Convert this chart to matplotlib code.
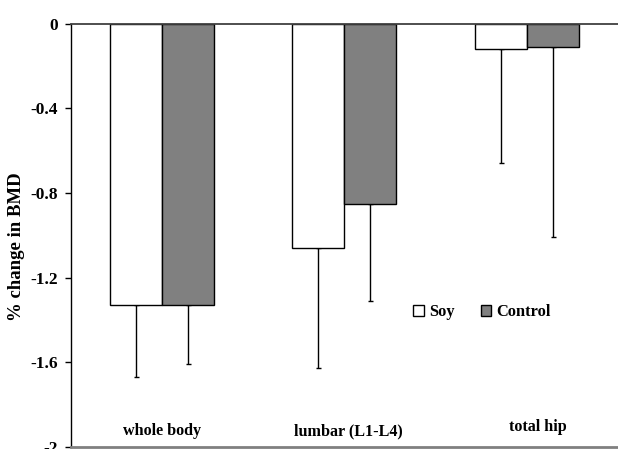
import matplotlib
matplotlib.use("Agg")
import matplotlib.pyplot as plt
from matplotlib.patches import Patch
import numpy as np

# values (% change in BMD)
sites = ["whole body", "lumbar (L1-L4)", "total hip"]
soy_mean = [-1.33, -1.06, -0.12]
soy_err = [0.34, 0.57, 0.54]
control_mean = [-1.33, -0.85, -0.11]
control_err = [0.28, 0.46, 0.90]
yticks = [0, -0.4, -0.8, -1.2, -1.6, -2]
ytick_labels = ["0", "-0.4", "-0.8", "-1.2", "-1.6", "-2"]

plt.rcParams["font.family"] = ["Liberation Serif", "DejaVu Serif"]
plt.rcParams["font.weight"] = "bold"

fig = plt.figure(figsize=(6.18, 4.49), dpi=100)
ax = fig.add_axes([0.1144, 0.005, 0.8856, 0.9422])

x = np.arange(len(sites))
width = 0.285

ax.bar(x - width / 2, soy_mean, width, color="white", edgecolor="black", linewidth=1.0, label="Soy", zorder=2)
ax.bar(x + width / 2, control_mean, width, color="#808080", edgecolor="black", linewidth=1.0, label="Control", zorder=2)

for offset, mean, err in [(-width / 2, soy_mean, soy_err), (width / 2, control_mean, control_err)]:
    ax.errorbar(x + offset, mean, yerr=[err, np.zeros(len(err))], fmt="none",
                ecolor="black", elinewidth=1.0, capsize=1.8, capthick=1.0, zorder=1)

ax.set_xlim(-0.5, 2.5)
ax.set_ylim(-2, 0)
ax.set_yticks(yticks)
ax.set_yticklabels(ytick_labels, fontsize=12.5, fontweight="bold")
ax.tick_params(axis="y", direction="out", length=4, width=1, pad=5.5)
ax.set_xticks([])

ax.spines["right"].set_visible(False)
ax.spines["top"].set_color("#404040")
ax.spines["top"].set_linewidth(1.3)
ax.spines["bottom"].set_color("#808080")
ax.spines["bottom"].set_linewidth(2)
ax.spines["left"].set_linewidth(1)

# category labels sit inside the plot near the bottom
label_dx = [0.0, 0.02, 0.06]
label_y = [-1.927, -1.927, -1.908]
for i, name in enumerate(sites):
    ax.text(x[i] + label_dx[i], label_y[i], name, ha="center", va="center",
            fontsize=11.6, fontweight="bold")

fig.text(17 / 618, 1 - 247 / 449, "% change in BMD", rotation=90, ha="center", va="center",
         fontsize=13.5, fontweight="bold")

handles = [Patch(facecolor="white", edgecolor="black", linewidth=1.0, label="Soy"),
           Patch(facecolor="#808080", edgecolor="black", linewidth=1.0, label="Control")]
fig.legend(handles=handles, loc="center", bbox_to_anchor=(482 / 618, 1 - 312 / 449), ncol=2,
           frameon=False, handlelength=0.65, handleheight=0.65, handletextpad=0.3,
           columnspacing=1.6, prop={"size": 11.8, "weight": "bold"})

fig.savefig("out.png", dpi=100)
